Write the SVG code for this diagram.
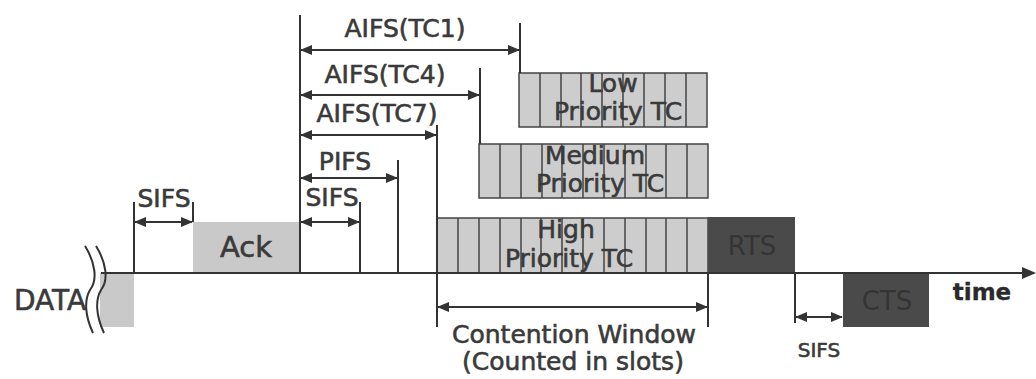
<svg xmlns="http://www.w3.org/2000/svg" width="1036" height="379" viewBox="0 0 1036 379">
<defs>
<style>
.ln{stroke:#333;stroke-width:2;fill:none}
.ar{stroke:#333;stroke-width:2;fill:none;marker-start:url(#ah);marker-end:url(#ah)}
.t{font-family:"DejaVu Sans",Verdana,sans-serif;font-size:25px;fill:#3a3a3a;stroke:#3a3a3a;stroke-width:0.6;text-anchor:middle}
.lt{fill:#c9c9c9;stroke:none}
.cell{fill:#cdcdcd;stroke:#444;stroke-width:1.5}
.div{stroke:#444;stroke-width:1.5;fill:none}
.dk{fill:#4a4a4a;stroke:none}
.dkt{font-family:"DejaVu Sans",Verdana,sans-serif;font-size:26px;fill:#343434;text-anchor:middle}
</style>
<marker id="ah" viewBox="0 0 12 10" refX="11" refY="5" markerWidth="12" markerHeight="10" markerUnits="userSpaceOnUse" orient="auto-start-reverse">
<path d="M0,0 L12,5 L0,10 Z" fill="#333"/>
</marker>
</defs>
<rect width="1036" height="379" fill="#fff"/>

<g id="data">
<rect class="lt" x="100" y="273" width="34" height="54"/>
<path class="ln" d="M85,246 C95,262 98,280 90,290 C84,300 85,316 93,333"/>
<path class="ln" d="M96,246 C106,262 109,280 101,290 C95,300 96,316 104,333"/>
<text class="t" x="50" y="310" style="font-size:28px">DATA</text>
</g>

<g id="ack">
<rect class="lt" x="193" y="222" width="107" height="51"/>
<text class="t" x="246" y="257" style="font-size:29px">Ack</text>
</g>

<g id="low">
<rect class="cell" x="519" y="73" width="188" height="54"/>
<path class="div" d="M540,73V127M561,73V127M581,73V127M602,73V127M623,73V127M644,73V127M665,73V127M686,73V127"/>
<text class="t" x="613" y="92">Low</text>
<text class="t" x="618" y="120">Priority TC</text>
</g>

<g id="medium">
<rect class="cell" x="479" y="144" width="229" height="54"/>
<path class="div" d="M500,144V198M521,144V198M542,144V198M562,144V198M583,144V198M604,144V198M625,144V198M646,144V198M666,144V198M687,144V198"/>
<text class="t" x="595" y="164">Medium</text>
<text class="t" x="600" y="192">Priority TC</text>
</g>

<g id="high">
<rect class="cell" x="437" y="218" width="271" height="55"/>
<path class="div" d="M458,218V273M479,218V273M500,218V273M521,218V273M541,218V273M562,218V273M583,218V273M604,218V273M625,218V273M646,218V273M666,218V273M687,218V273"/>
<text class="t" x="566" y="238">High</text>
<text class="t" x="569" y="267">Priority TC</text>
</g>

<g id="rts">
<rect class="dk" x="708" y="217" width="87" height="56"/>
<text class="dkt" x="752" y="255">RTS</text>
</g>

<g id="cts">
<rect class="dk" x="843" y="272" width="86" height="55"/>
<text class="dkt" x="887" y="310">CTS</text>
</g>

<g id="connectors">
<line class="ln" x1="101" y1="273" x2="1024" y2="273"/>
<path d="M1036,273 L1022,267 L1022,279 Z" fill="#333"/>
<path class="ln" d="M134,202V273M193,202V222M300,15V273M520,23V73M480,68V144M437,125V327M398,160V273M360,202V273M708,273V327M795,273V323"/>
<line class="ar" x1="135" y1="222" x2="192" y2="222"/>
<line class="ar" x1="301" y1="50" x2="519" y2="50"/>
<line class="ar" x1="301" y1="95" x2="479" y2="95"/>
<line class="ar" x1="301" y1="135" x2="436" y2="135"/>
<line class="ar" x1="301" y1="178" x2="397" y2="178"/>
<line class="ar" x1="301" y1="222" x2="359" y2="222"/>
<line class="ar" x1="438" y1="307" x2="707" y2="307"/>
<line class="ar" x1="796" y1="317" x2="842" y2="317"/>
</g>

<g id="labels">
<text class="t" x="164" y="207">SIFS</text>
<text class="t" x="405" y="37">AIFS(TC1)</text>
<text class="t" x="385" y="83">AIFS(TC4)</text>
<text class="t" x="377" y="122">AIFS(TC7)</text>
<text class="t" x="345" y="170">PIFS</text>
<text class="t" x="332" y="206">SIFS</text>
<text class="t" x="982" y="300" style="font-weight:bold;font-size:23px;fill:#2a2a2a;stroke:#2a2a2a;stroke-width:0.3">time</text>
<text class="t" x="819" y="357" style="font-size:20px">SIFS</text>
<text class="t" x="574" y="343">Contention Window</text>
<text class="t" x="573" y="370">(Counted in slots)</text>
</g>
</svg>
